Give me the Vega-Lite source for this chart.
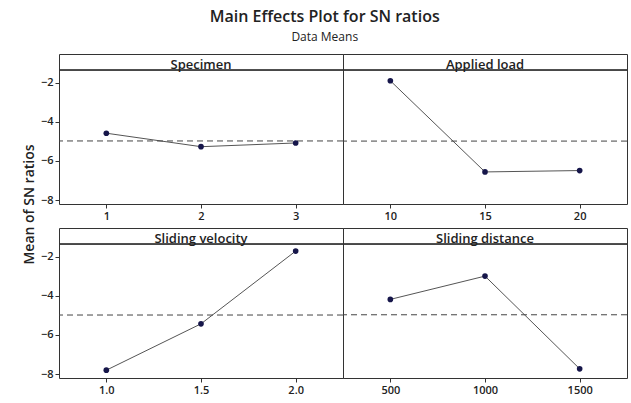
{
  "$schema": "https://vega.github.io/schema/vega-lite/v6.json",
  "padding": {"left": 21, "top": 8, "right": 3, "bottom": 5},
  "background": "white",
  "title": {
    "text": "Main Effects Plot for SN ratios",
    "subtitle": "Data Means",
    "anchor": "middle",
    "font": "Open Sans",
    "fontSize": 16,
    "fontWeight": 600,
    "color": "#222",
    "subtitleFont": "Open Sans",
    "subtitleFontSize": 12,
    "subtitleColor": "#222",
    "subtitlePadding": 7,
    "offset": 11
  },
  "datasets": {
    "effects": [
      {"factor": "Specimen", "level": 1, "mean": -4.58},
      {"factor": "Specimen", "level": 2, "mean": -5.27},
      {"factor": "Specimen", "level": 3, "mean": -5.08},
      {"factor": "Applied load", "level": 10, "mean": -1.90},
      {"factor": "Applied load", "level": 15, "mean": -6.56},
      {"factor": "Applied load", "level": 20, "mean": -6.49},
      {"factor": "Sliding velocity", "level": 1.0, "mean": -7.80},
      {"factor": "Sliding velocity", "level": 1.5, "mean": -5.43},
      {"factor": "Sliding velocity", "level": 2.0, "mean": -1.71},
      {"factor": "Sliding distance", "level": 500, "mean": -4.18},
      {"factor": "Sliding distance", "level": 1000, "mean": -2.99},
      {"factor": "Sliding distance", "level": 1500, "mean": -7.73}
    ]
  },
  "data": {"name": "effects"},
  "bounds": "flush",
  "columns": 2,
  "spacing": {"row": 24, "column": 0},
  "resolve": {"scale": {"x": "independent", "y": "independent"}},
  "concat": [
    {
      "width": 284, "height": 150,
      "transform": [{"filter": "datum.factor === 'Specimen'"}],
      "layer": [
        {"mark": {"type": "line", "color": "#555", "strokeWidth": 1},
         "encoding": {
           "x": {"field": "level", "type": "quantitative", "scale": {"domain": [0.5, 3.5], "nice": false, "zero": false}, "axis": {"values": [1, 2, 3], "format": "d", "title": null}},
           "y": {"field": "mean", "type": "quantitative", "scale": {"domain": [-8.2, -0.53], "nice": false, "zero": false}, "axis": {"values": [-2, -4, -6, -8], "title": "Mean of SN ratios", "titleY": 150, "titleX": -30, "titleBaseline": "middle", "titleAngle": -90}}
         }},
        {"mark": {"type": "rule", "color": "#444", "strokeDash": [6, 4], "strokeWidth": 1},
         "encoding": {"y": {"aggregate": "mean", "field": "mean", "type": "quantitative"}}},
        {"mark": {"type": "rule", "color": "#333", "strokeWidth": 1},
         "encoding": {"y": {"datum": -1.35}}},
        {"mark": {"type": "circle", "size": 32, "color": "#16164a", "opacity": 1},
         "encoding": {"x": {"field": "level", "type": "quantitative"}, "y": {"field": "mean", "type": "quantitative"}}},
        {"transform": [{"aggregate": [{"op": "count", "as": "n"}], "groupby": ["factor"]}],
         "mark": {"type": "text", "font": "Open Sans", "fontSize": 13, "fontWeight": 600, "color": "#222", "baseline": "alphabetic", "align": "center", "dy": -1},
         "encoding": {"text": {"field": "factor"}, "x": {"datum": 2}, "y": {"datum": -1.35}}}
      ]
    },
    {
      "width": 284, "height": 150,
      "transform": [{"filter": "datum.factor === 'Applied load'"}],
      "layer": [
        {"mark": {"type": "line", "color": "#555", "strokeWidth": 1},
         "encoding": {
           "x": {"field": "level", "type": "quantitative", "scale": {"domain": [7.5, 22.5], "nice": false, "zero": false}, "axis": {"values": [10, 15, 20], "format": "d", "title": null}},
           "y": {"field": "mean", "type": "quantitative", "scale": {"domain": [-8.2, -0.53], "nice": false, "zero": false}, "axis": null}
         }},
        {"mark": {"type": "rule", "color": "#444", "strokeDash": [6, 4], "strokeWidth": 1},
         "encoding": {"y": {"aggregate": "mean", "field": "mean", "type": "quantitative"}}},
        {"mark": {"type": "rule", "color": "#333", "strokeWidth": 1},
         "encoding": {"y": {"datum": -1.35}}},
        {"mark": {"type": "circle", "size": 32, "color": "#16164a", "opacity": 1},
         "encoding": {"x": {"field": "level", "type": "quantitative"}, "y": {"field": "mean", "type": "quantitative"}}},
        {"transform": [{"aggregate": [{"op": "count", "as": "n"}], "groupby": ["factor"]}],
         "mark": {"type": "text", "font": "Open Sans", "fontSize": 13, "fontWeight": 600, "color": "#222", "baseline": "alphabetic", "align": "center", "dy": -1},
         "encoding": {"text": {"field": "factor"}, "x": {"datum": 15}, "y": {"datum": -1.35}}}
      ]
    },
    {
      "width": 284, "height": 150,
      "transform": [{"filter": "datum.factor === 'Sliding velocity'"}],
      "layer": [
        {"mark": {"type": "line", "color": "#555", "strokeWidth": 1},
         "encoding": {
           "x": {"field": "level", "type": "quantitative", "scale": {"domain": [0.75, 2.25], "nice": false, "zero": false}, "axis": {"values": [1.0, 1.5, 2.0], "format": ".1f", "title": null}},
           "y": {"field": "mean", "type": "quantitative", "scale": {"domain": [-8.2, -0.53], "nice": false, "zero": false}, "axis": {"values": [-2, -4, -6, -8], "title": null}}
         }},
        {"mark": {"type": "rule", "color": "#444", "strokeDash": [6, 4], "strokeWidth": 1},
         "encoding": {"y": {"aggregate": "mean", "field": "mean", "type": "quantitative"}}},
        {"mark": {"type": "rule", "color": "#333", "strokeWidth": 1},
         "encoding": {"y": {"datum": -1.35}}},
        {"mark": {"type": "circle", "size": 32, "color": "#16164a", "opacity": 1},
         "encoding": {"x": {"field": "level", "type": "quantitative"}, "y": {"field": "mean", "type": "quantitative"}}},
        {"transform": [{"aggregate": [{"op": "count", "as": "n"}], "groupby": ["factor"]}],
         "mark": {"type": "text", "font": "Open Sans", "fontSize": 13, "fontWeight": 600, "color": "#222", "baseline": "alphabetic", "align": "center", "dy": -1},
         "encoding": {"text": {"field": "factor"}, "x": {"datum": 1.5}, "y": {"datum": -1.35}}}
      ]
    },
    {
      "width": 284, "height": 150,
      "transform": [{"filter": "datum.factor === 'Sliding distance'"}],
      "layer": [
        {"mark": {"type": "line", "color": "#555", "strokeWidth": 1},
         "encoding": {
           "x": {"field": "level", "type": "quantitative", "scale": {"domain": [250, 1750], "nice": false, "zero": false}, "axis": {"values": [500, 1000, 1500], "format": "d", "title": null}},
           "y": {"field": "mean", "type": "quantitative", "scale": {"domain": [-8.2, -0.53], "nice": false, "zero": false}, "axis": null}
         }},
        {"mark": {"type": "rule", "color": "#444", "strokeDash": [6, 4], "strokeWidth": 1},
         "encoding": {"y": {"aggregate": "mean", "field": "mean", "type": "quantitative"}}},
        {"mark": {"type": "rule", "color": "#333", "strokeWidth": 1},
         "encoding": {"y": {"datum": -1.35}}},
        {"mark": {"type": "circle", "size": 32, "color": "#16164a", "opacity": 1},
         "encoding": {"x": {"field": "level", "type": "quantitative"}, "y": {"field": "mean", "type": "quantitative"}}},
        {"transform": [{"aggregate": [{"op": "count", "as": "n"}], "groupby": ["factor"]}],
         "mark": {"type": "text", "font": "Open Sans", "fontSize": 13, "fontWeight": 600, "color": "#222", "baseline": "alphabetic", "align": "center", "dy": -1},
         "encoding": {"text": {"field": "factor"}, "x": {"datum": 1000}, "y": {"datum": -1.35}}}
      ]
    }
  ],
  "config": {
    "font": "Open Sans",
    "view": {"stroke": "#333", "strokeWidth": 1},
    "axis": {
      "domain": false,
      "grid": false,
      "tickColor": "#333",
      "tickSize": 4,
      "labelFont": "Open Sans",
      "labelFontSize": 11,
      "labelFontWeight": 600,
      "labelColor": "#222",
      "labelPadding": 2,
      "titleFont": "Open Sans",
      "titleFontSize": 14,
      "titleFontWeight": 600,
      "titleColor": "#222"
    }
  }
}
